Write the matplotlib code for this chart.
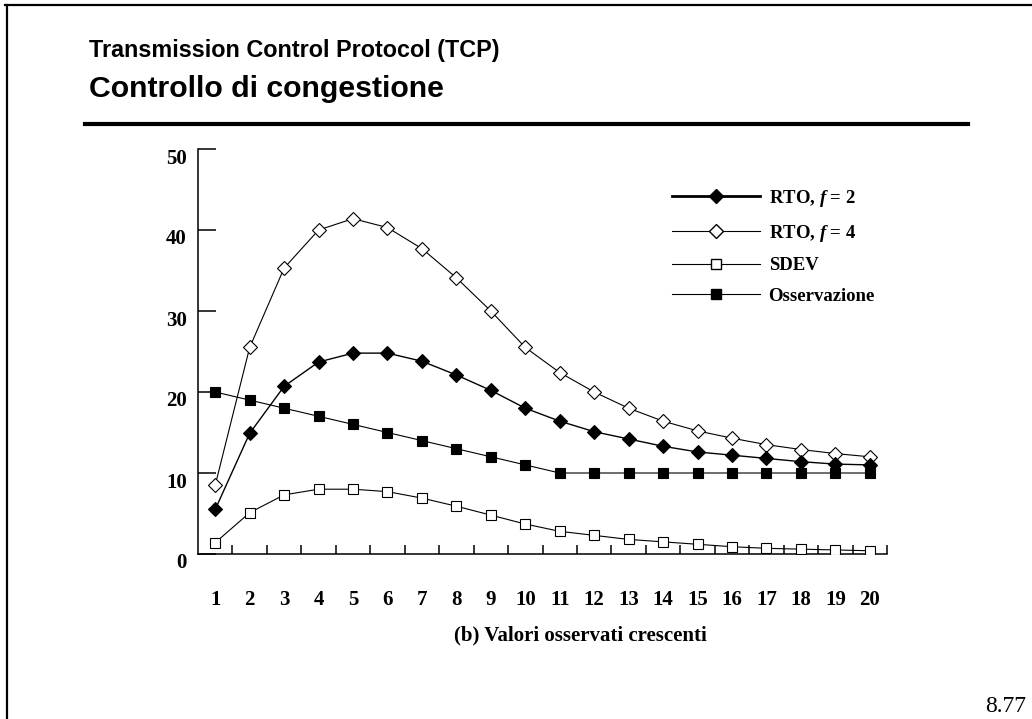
import matplotlib
matplotlib.use("Agg")
import matplotlib.pyplot as plt
import matplotlib.transforms as mtransforms
from matplotlib.lines import Line2D

plt.rcParams['font.family'] = 'Liberation Serif'
plt.rcParams['font.weight'] = 'bold'
plt.rcParams['mathtext.fontset'] = 'custom'
plt.rcParams['mathtext.rm'] = 'Liberation Serif:bold'
plt.rcParams['mathtext.it'] = 'Liberation Serif:italic:bold'

# successive observed values (x axis) and the estimates computed from them
steps = list(range(1, 21))
rto_f2 = [5.5, 14.9, 20.7, 23.7, 24.8, 24.8, 23.8, 22.1, 20.2, 18.0,
          16.4, 15.1, 14.2, 13.3, 12.6, 12.2, 11.8, 11.4, 11.1, 11.0]
rto_f4 = [8.5, 25.5, 35.3, 40.0, 41.4, 40.3, 37.7, 34.1, 30.0, 25.5,
          22.4, 20.0, 18.0, 16.4, 15.2, 14.3, 13.5, 12.9, 12.4, 12.0]
sdev = [1.4, 5.1, 7.3, 8.0, 8.0, 7.7, 6.9, 5.9, 4.8, 3.7,
        2.8, 2.3, 1.8, 1.5, 1.2, 0.9, 0.7, 0.6, 0.5, 0.4]
osservazione = [20, 19, 18, 17, 16, 15, 14, 13, 12, 11,
                10, 10, 10, 10, 10, 10, 10, 10, 10, 10]
series_labels = ['RTO, $f$ = 2', 'RTO, $f$ = 4', 'SDEV', 'Osservazione']
y_ticks = [0, 10, 20, 30, 40, 50]

W, H = 1032, 719
fig = plt.figure(figsize=(W / 100, H / 100), dpi=100)

# slide frame: top and left border, heading, underline, page number
fig.add_artist(Line2D([5 / W, 1], [1 - 5 / H, 1 - 5 / H], color='black', lw=1.6))
fig.add_artist(Line2D([7 / W, 7 / W], [0, 1 - 5 / H], color='black', lw=1.6))
fig.text(89 / W, 1 - 57 / H, 'Transmission Control Protocol (TCP)',
         family='Liberation Sans', weight='bold', fontsize=16.8, va='baseline')
fig.text(89 / W, 1 - 97 / H, 'Controllo di congestione',
         family='Liberation Sans', weight='bold', fontsize=21.8, va='baseline')
fig.add_artist(Line2D([85 / W, 968 / W], [1 - 124 / H, 1 - 124 / H],
                      color='black', lw=3.0))
fig.text(985 / W, 1 - 712 / H, '8.77', weight='normal', fontsize=17,
         va='baseline')

ax = fig.add_axes([198 / W, 1 - 554 / H, (887 - 198) / W, (554 - 149) / H])

ax.plot(steps, rto_f4, color='black', lw=0.8, marker='D', ms=7.0,
        mfc='white', mec='black', mew=0.8, zorder=3)
ax.plot(steps, rto_f2, color='black', lw=1.0, marker='D', ms=7.0,
        mfc='black', mec='black', mew=0.8, zorder=4)
ax.plot(steps, sdev, color='black', lw=0.8, marker='s', ms=6.8,
        mfc='white', mec='black', mew=0.8, zorder=3)
ax.plot(steps, osservazione, color='black', lw=0.8, marker='s', ms=6.8,
        mfc='black', mec='black', mew=0.8, zorder=4)

ax.set_xlim(0.5, 20.5)
ax.set_ylim(0, 50)
for side in ['top', 'right']:
    ax.spines[side].set_visible(False)
for side in ['left', 'bottom']:
    ax.spines[side].set_linewidth(1.1)

ax.set_xticks(steps)
ax.set_xticklabels([str(s) for s in steps])
ax.set_xticks([s + 0.5 for s in steps], minor=True)
ax.tick_params(axis='x', which='major', length=0, pad=26, labelsize=15)
ax.tick_params(axis='x', which='minor', direction='in', length=6.5, width=1.1)
ax.set_yticks(y_ticks)
ax.tick_params(axis='y', which='major', direction='in', length=13, width=1.1,
               pad=8, labelsize=15)
shift = mtransforms.ScaledTranslation(0, -0.07, fig.dpi_scale_trans)
for lbl in ax.get_yticklabels():
    lbl.set_transform(lbl.get_transform() + shift)

ax.set_xlabel('(b) Valori osservati crescenti', fontsize=15, fontweight='bold')
ax.xaxis.set_label_coords(0.555, -0.20)
ax.xaxis.label.set_va('center')

handles = [
    Line2D([], [], color='black', lw=2.0, marker='D', ms=7.0, mfc='black', mec='black'),
    Line2D([], [], color='black', lw=0.8, marker='D', ms=7.0, mfc='white', mec='black'),
    Line2D([], [], color='black', lw=0.8, marker='s', ms=6.8, mfc='white', mec='black'),
    Line2D([], [], color='black', lw=0.8, marker='s', ms=6.8, mfc='black', mec='black'),
]
fig.legend(handles, series_labels, loc='upper left',
           bbox_to_anchor=(672 / W, 1 - 188 / H), frameon=False,
           fontsize=13.5, handlelength=4.7, handletextpad=0.45,
           labelspacing=0.72, borderpad=0, borderaxespad=0)

plt.savefig('out.png', dpi=100)
